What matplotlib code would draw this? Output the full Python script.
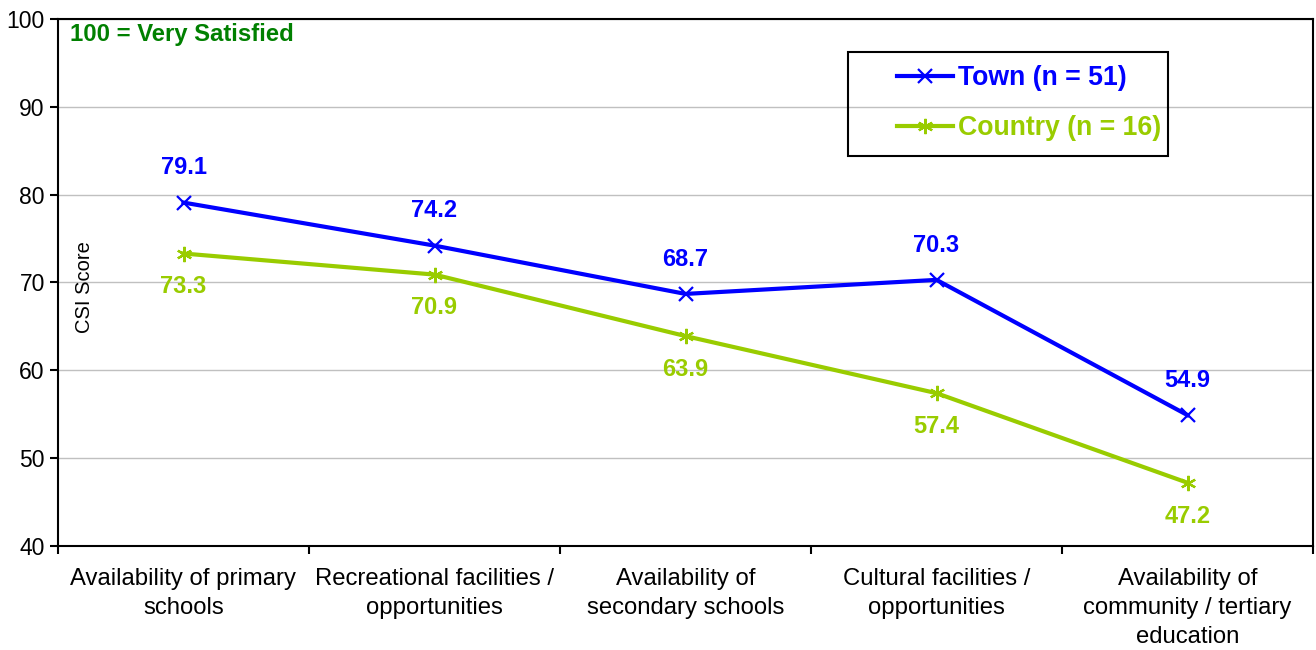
import matplotlib.pyplot as plt
from matplotlib.patches import Rectangle
import numpy as np

plt.rcParams['font.family'] = ['Liberation Sans', 'DejaVu Sans']

categories = ["Availability of primary\nschools",
              "Recreational facilities /\nopportunities",
              "Availability of\nsecondary schools",
              "Cultural facilities /\nopportunities",
              "Availability of\ncommunity / tertiary\neducation"]
town = [79.1, 74.2, 68.7, 70.3, 54.9]
country = [73.3, 70.9, 63.9, 57.4, 47.2]
town_label = "Town (n = 51)"
country_label = "Country (n = 16)"

blue = "#0000FF"
green = "#99CC00"

W, H = 1316, 650
fig = plt.figure(figsize=(W / 100, H / 100), dpi=100)
ax = fig.add_axes([58 / W, 1 - 546 / H, (1313 - 58) / W, (546 - 19) / H])

x = np.arange(len(categories)) + 0.5
ax.plot(x, town, color=blue, lw=3, marker="x", ms=10, mew=1.6, label=town_label)
ax.plot(x, country, color=green, lw=3, marker=(6, 2, 0), ms=11, mew=1.6, label=country_label)

for xi, v in zip(x, town):
    ax.annotate(f"{v:.1f}", (xi, v), xytext=(0, 25), textcoords="offset points",
                ha="center", va="center", color=blue, fontsize=17, fontweight="bold")
for xi, v in zip(x, country):
    ax.annotate(f"{v:.1f}", (xi, v), xytext=(0, -24), textcoords="offset points",
                ha="center", va="center", color=green, fontsize=17, fontweight="bold")

ax.set_xlim(0, len(categories))
ax.set_ylim(40, 100)
ax.set_yticks(range(40, 101, 10))
ax.set_xticks(range(len(categories) + 1))
ax.set_xticklabels([])
ax.set_xticks(x, minor=True)
ax.set_xticklabels(categories, minor=True, fontsize=17.2, linespacing=1.4)
ax.tick_params(axis="x", which="minor", length=0, pad=16)
ax.tick_params(axis="x", which="major", direction="out", length=6, width=1.5)
ax.tick_params(axis="y", direction="out", length=6, width=1.5, labelsize=16.5)
ax.yaxis.grid(True, color="#C0C0C0", lw=1)
ax.set_axisbelow(True)
for s in ax.spines.values():
    s.set_linewidth(1.5)

# axis title sits inside the plot area
fig.text(85 / W, 1 - 287 / H, "CSI Score", rotation=90, fontsize=14.5,
         ha="center", va="center")

ax.text(70 / W, 1 - 35 / H, "100 = Very Satisfied", transform=fig.transFigure,
        color="#008000", fontsize=17.2, fontweight="bold", va="center", ha="left")

# legend box drawn separately so the padding matches
ax.add_patch(Rectangle((848 / W, 1 - 156 / H), 320 / W, 104 / H,
                       transform=fig.transFigure, fill=False, ec="black", lw=1.5,
                       clip_on=False, zorder=5))
leg = ax.legend(loc="center left", bbox_to_anchor=(897 / W, 1 - 103 / H),
                bbox_transform=fig.transFigure, prop={"weight": "bold", "size": 19.2},
                frameon=False, borderpad=0, handlelength=2.1, handletextpad=0.2,
                labelspacing=0.9, borderaxespad=0)
for t, c in zip(leg.get_texts(), [blue, green]):
    t.set_color(c)

fig.savefig("out.png", dpi=100)
